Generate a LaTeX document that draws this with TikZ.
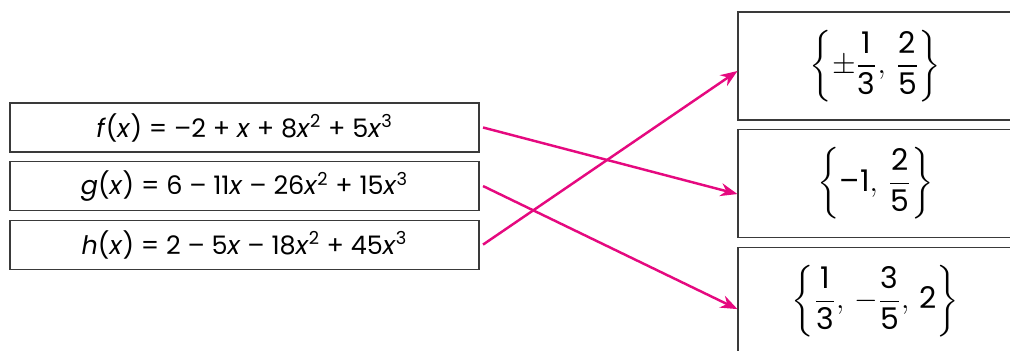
\documentclass[tikz,border=0pt]{standalone}
\usepackage{amsmath,amssymb}
\usepackage{fontspec}
\setmainfont{Poppins}
\usepackage{xcolor}
\usetikzlibrary{arrows.meta,positioning}

\definecolor{linkpink}{HTML}{E5097F}
\definecolor{boxgray}{HTML}{3A3A3A}

\newcommand{\tfr}[2]{\dfrac{\text{#1}}{\text{#2}}}

\begin{document}
\begin{tikzpicture}[
    node distance=0.17cm,
    fbox/.style={rectangle, draw=boxgray, line width=0.6pt, minimum width=9.38cm, minimum height=0.98cm, align=center, font=\fontsize{14.5}{16}\selectfont},
    sbox/.style={rectangle, draw=boxgray, line width=0.6pt, minimum width=5.5cm, minimum height=2.16cm, align=center, font=\fontsize{17}{19}\selectfont},
    arrow/.style={-{Stealth[length=3.4mm,width=2.6mm]}, draw=linkpink, line width=1.4pt}
]
\useasboundingbox (0,0) rectangle (20.2,-7.02);
\begin{scope}
\clip (0,0) rectangle (20.2,-7.02);
% left: the three functions
\node[fbox] (f) at (4.89,-2.55) {\textit{f}(\textit{x}) = –2 + \textit{x} + 8\textit{x}\textsuperscript{2} + 5\textit{x}\textsuperscript{3}};
\node[fbox, below=of f] (g) {\textit{g}(\textit{x}) = 6 – 11\textit{x} – 26\textit{x}\textsuperscript{2} + 15\textit{x}\textsuperscript{3}};
\node[fbox, below=of g] (h) {\textit{h}(\textit{x}) = 2 – 5\textit{x} – 18\textit{x}\textsuperscript{2} + 45\textit{x}\textsuperscript{3}};

% right: the zero sets
\node[sbox] (za) at (17.51,-1.32) {$\left\{\pm\tfr{1}{3},\,\tfr{2}{5}\right\}$};
\node[sbox, below=of za] (zb) {$\left\{\text{–1},\,\tfr{2}{5}\right\}$};
\node[sbox, below=of zb] (zc) {$\left\{\tfr{1}{3},\,-\tfr{3}{5},\,\text{2}\right\}$};
\end{scope}

\draw[arrow] ([xshift=2pt]f.east) -- ([yshift=-0.21cm]zb.west);
\draw[arrow] ([xshift=2pt]g.east) -- ([yshift=-0.16cm]zc.west);
\draw[arrow] ([xshift=2pt]h.east) -- ([yshift=-0.1cm]za.west);
\end{tikzpicture}
\end{document}
